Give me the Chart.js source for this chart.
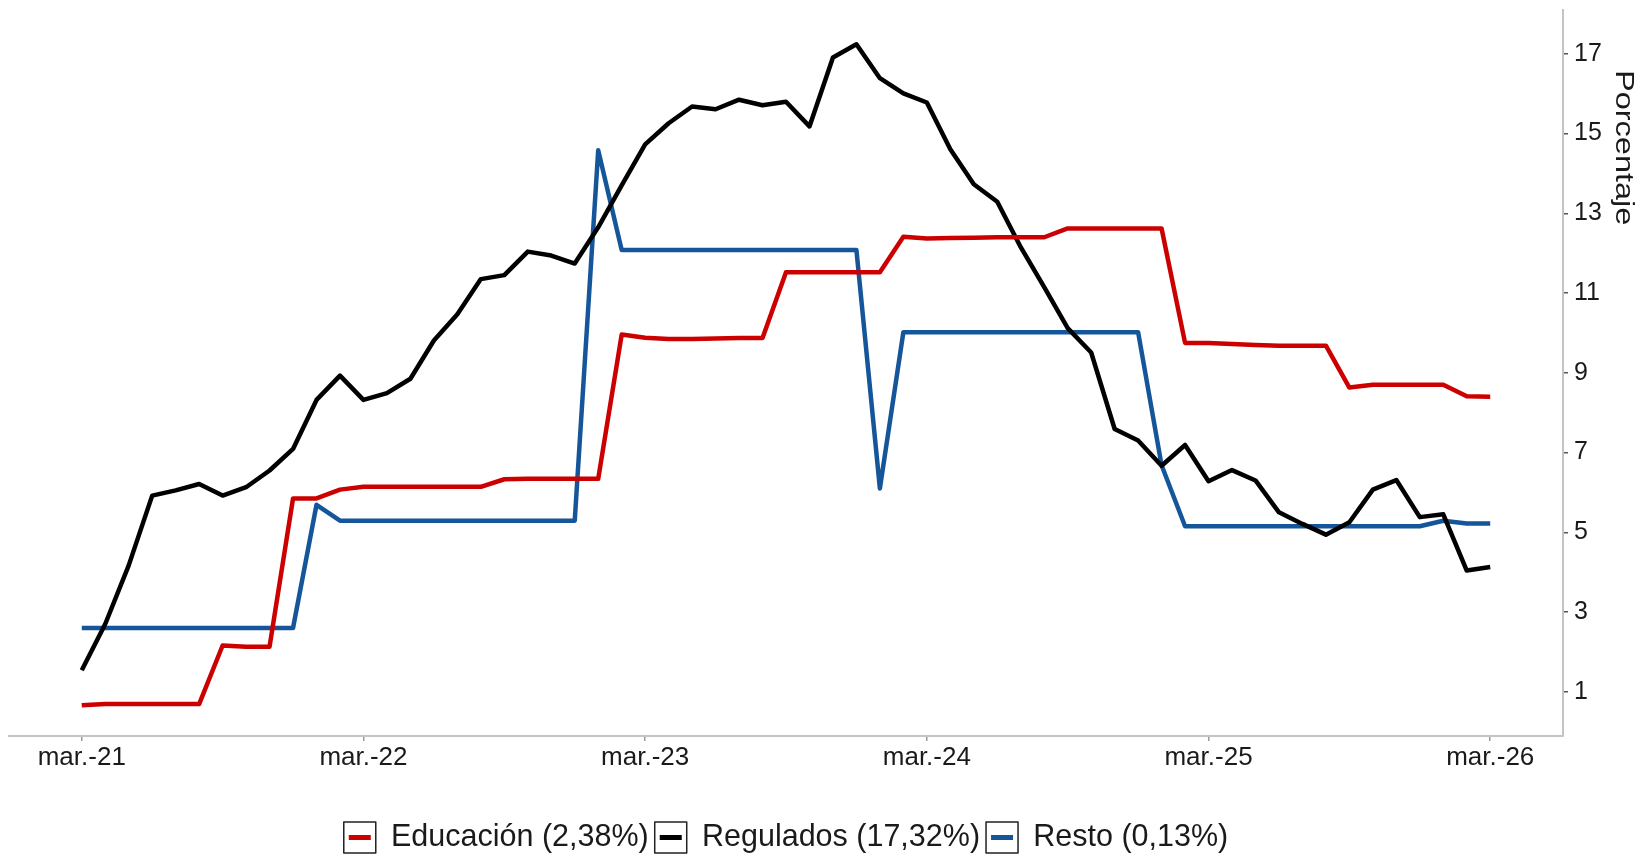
<!DOCTYPE html>
<html>
<head>
<meta charset="utf-8">
<script src="https://cdn.jsdelivr.net/npm/chart.js@4.4.1/dist/chart.umd.min.js"></script>
<style>
  html, body { margin: 0; padding: 0; background: #fff; overflow: hidden; }
  #wrap { position: relative; width: 1641px; height: 854px; }
</style>
</head>
<body>
<div id="wrap"><canvas id="chart"></canvas></div>
<script>
// ── data (monthly, mar-21 … mar-26) ──
const seriesNames = ['Educación (2,38%)', 'Regulados (17,32%)', 'Resto (0,13%)'];
const seriesColors = ['#CC0000', '#000000', '#15569A'];

const educacion = [0.66, 0.69, 0.69, 0.69, 0.69, 0.69, 2.16, 2.13, 2.13, 5.85,
  5.85, 6.07, 6.14, 6.14, 6.14, 6.14, 6.14, 6.14, 6.33, 6.34,
  6.34, 6.34, 6.34, 9.96, 9.88, 9.85, 9.85, 9.86, 9.87, 9.87,
  11.52, 11.52, 11.52, 11.52, 11.52, 12.41, 12.37, 12.38, 12.39, 12.40,
  12.40, 12.40, 12.62, 12.62, 12.62, 12.62, 12.62, 9.75, 9.75, 9.72,
  9.70, 9.68, 9.68, 9.68, 8.63, 8.70, 8.70, 8.70, 8.70, 8.41,
  8.40];

const regulados = [1.54, 2.70, 4.17, 5.92, 6.05, 6.21, 5.92, 6.13, 6.55, 7.09,
  8.32, 8.93, 8.32, 8.49, 8.85, 9.81, 10.47, 11.35, 11.45, 12.04,
  11.94, 11.74, 12.65, 13.70, 14.73, 15.26, 15.68, 15.61, 15.85, 15.71,
  15.80, 15.18, 16.91, 17.24, 16.39, 16.01, 15.78, 14.61, 13.73, 13.29,
  12.15, 11.15, 10.12, 9.51, 7.59, 7.30, 6.67, 7.19, 6.28, 6.56,
  6.30, 5.50, 5.21, 4.94, 5.25, 6.07, 6.31, 5.38, 5.45, 4.04,
  4.13];

const resto = [2.60, 2.60, 2.60, 2.60, 2.60, 2.60, 2.60, 2.60, 2.60, 2.60,
  5.69, 5.29, 5.29, 5.29, 5.29, 5.29, 5.29, 5.29, 5.29, 5.29,
  5.29, 5.29, 14.58, 12.08, 12.08, 12.08, 12.08, 12.08, 12.08, 12.08,
  12.08, 12.08, 12.08, 12.08, 6.10, 10.02, 10.02, 10.02, 10.02, 10.02,
  10.02, 10.02, 10.02, 10.02, 10.02, 10.02, 6.68, 5.15, 5.15, 5.15,
  5.15, 5.15, 5.15, 5.15, 5.15, 5.15, 5.15, 5.15, 5.29, 5.22,
  5.22];

const xTickPos = [0, 12, 24, 36, 48, 60];
const xTickLabels = ['mar.-21', 'mar.-22', 'mar.-23', 'mar.-24', 'mar.-25', 'mar.-26'];
const yTicks = [1, 3, 5, 7, 9, 11, 13, 15, 17];
const yTitle = 'Porcentaje';

// ── chart ──
const FONT = "'Liberation Sans', Arial, Helvetica, sans-serif";
Chart.defaults.font.family = FONT;
Chart.defaults.color = '#1a1a1a';

const toPoints = arr => arr.map((v, i) => ({ x: i, y: v }));

// draws the coloured stroke inside each legend key box
const legendKeys = {
  id: 'legendKeys',
  afterDraw(chart) {
    const lg = chart.legend;
    if (!lg || !lg.legendHitBoxes) return;
    const c = chart.ctx;
    const bw = lg.options.labels.boxWidth;
    lg.legendHitBoxes.forEach((b, i) => {
      const y = b.top + b.height / 2;
      c.save();
      c.strokeStyle = chart.data.datasets[i].borderColor;
      c.lineWidth = 5;
      c.beginPath();
      c.moveTo(b.left + 5, y);
      c.lineTo(b.left + bw - 5, y);
      c.stroke();
      c.restore();
    });
  }
};

// axis title on the right, reading top to bottom (slightly stretched like the source)
const rightTitle = {
  id: 'rightTitle',
  afterDraw(chart) {
    const c = chart.ctx;
    c.save();
    c.translate(chart.width - 18, chart.chartArea.top + 60);
    c.rotate(Math.PI / 2);
    c.scale(1.25, 1);
    c.font = '26px ' + FONT;
    c.fillStyle = '#1a1a1a';
    c.textAlign = 'left';
    c.textBaseline = 'middle';
    c.fillText(yTitle, 0, 0);
    c.restore();
  }
};

new Chart(document.getElementById('chart'), {
  type: 'line',
  data: {
    datasets: [educacion, regulados, resto].map((arr, i) => ({
      label: seriesNames[i],
      data: toPoints(arr),
      borderColor: seriesColors[i],
      backgroundColor: seriesColors[i],
      borderWidth: 4.5,
      pointRadius: 0,
      tension: 0,
      borderJoinStyle: 'round',
      fill: false
    }))
  },
  options: {
    responsive: true,
    maintainAspectRatio: false,
    animation: false,
    layout: { padding: { left: 9, top: 10, right: 0, bottom: -9 } },
    scales: {
      x: {
        type: 'linear',
        min: -3.1,
        max: 63.1,
        afterBuildTicks: s => { s.ticks = xTickPos.map(v => ({ value: v })); },
        afterFit: s => { s.height = 80; s.paddingLeft = 0; s.paddingRight = 0; },
        ticks: {
          autoSkip: false,
          maxRotation: 0,
          padding: 1,
          font: { size: 26 },
          color: '#1a1a1a',
          callback: v => xTickLabels[xTickPos.indexOf(v)]
        },
        grid: { drawOnChartArea: false, tickLength: 5, color: '#9a9a9a', lineWidth: 1.5 },
        border: { color: '#c4c4c4', width: 2 }
      },
      y: {
        position: 'right',
        min: -0.11,
        max: 18.10,
        afterBuildTicks: s => { s.ticks = yTicks.map(v => ({ value: v })); },
        afterFit: s => { s.width = 78; s.paddingTop = 0; s.paddingBottom = 0; },
        ticks: { padding: 6, font: { size: 25 }, color: '#1a1a1a' },
        grid: { drawOnChartArea: false, tickLength: 5, color: '#555', lineWidth: 1.5 },
        border: { color: '#c4c4c4', width: 2 }
      }
    },
    plugins: {
      legend: {
        position: 'bottom',
        fullSize: false,
        labels: {
          boxWidth: 32,
          boxHeight: 31,
          padding: 6,
          font: { size: 30.5 },
          color: '#1a1a1a',
          generateLabels: chart =>
            Chart.defaults.plugins.legend.labels.generateLabels(chart).map(l =>
              Object.assign(l, { fillStyle: '#fff', strokeStyle: '#222', lineWidth: 1.5, lineDash: [] }))
        }
      },
      tooltip: { enabled: false }
    }
  },
  plugins: [legendKeys, rightTitle]
});
</script>
</body>
</html>
